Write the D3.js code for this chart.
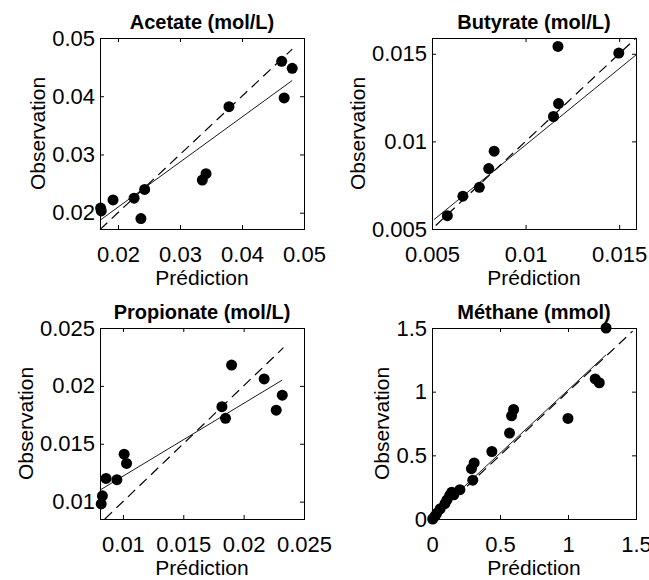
<!DOCTYPE html>
<html>
<head>
<meta charset="utf-8">
<script src="https://cdn.jsdelivr.net/npm/d3@7"></script>
<style>
    body { margin: 0; background: #fff; }
    svg text { font-family: "Liberation Sans", Arial, Helvetica, sans-serif; fill: #000; }
</style>
</head>
<body>
<div id="chart"></div>
<script>
// values (prediction on x, observation on y)
const acetatePred = [0.0172, 0.0173, 0.0192, 0.0226, 0.0237, 0.0243, 0.0336, 0.0342, 0.0379, 0.0464, 0.0468, 0.0481];
const acetateObs  = [0.0208, 0.0203, 0.0222, 0.0225, 0.0190, 0.0240, 0.0256, 0.0267, 0.0382, 0.0460, 0.0397, 0.0448];
const acetateFit  = [[0.0171, 0.0187], [0.0481, 0.0427]];
const acetateRef  = [[0.0171, 0.0171], [0.0481, 0.0481]];

const butyratePred = [0.00582, 0.00665, 0.00753, 0.00803, 0.00832, 0.01149, 0.01176, 0.01173, 0.01498];
const butyrateObs  = [0.00576, 0.00687, 0.00738, 0.00845, 0.00944, 0.01142, 0.01216, 0.01542, 0.01504];
const butyrateFit  = [[0.0051, 0.00553], [0.0159, 0.01493]];
const butyrateRef  = [[0.0052, 0.0052], [0.0159, 0.0159]];

const propionatePred = [0.0082, 0.0083, 0.0086, 0.0095, 0.0101, 0.0103, 0.0182, 0.0185, 0.0190, 0.0217, 0.0227, 0.0232];
const propionateObs  = [0.0098, 0.0105, 0.0120, 0.0119, 0.0141, 0.0133, 0.0182, 0.0172, 0.0218, 0.0206, 0.0179, 0.0192];
const propionateFit  = [[0.0081, 0.0110], [0.0232, 0.0205]];
const propionateRef  = [[0.0085, 0.0085], [0.0233, 0.0233]];

const methanePred = [0.005, 0.02, 0.035, 0.06, 0.095, 0.11, 0.13, 0.145, 0.16, 0.205, 0.30, 0.29, 0.31, 0.44, 0.57, 0.585, 0.60, 1.0, 1.2, 1.23, 1.28];
const methaneObs  = [0.0, 0.02, 0.045, 0.08, 0.12, 0.15, 0.185, 0.21, 0.19, 0.23, 0.305, 0.395, 0.44, 0.53, 0.675, 0.81, 0.86, 0.79, 1.1, 1.07, 1.5];
const methaneFit  = [[0.0, 0.02], [1.28, 1.29]];
const methaneRef  = [[0.0, 0.0], [1.475, 1.475]];

const titles = ["Acetate (mol/L)", "Butyrate (mol/L)", "Propionate (mol/L)", "Méthane (mmol)"];

const acetateTicks = [0.02, 0.03, 0.04, 0.05];
const acetateLabels = ["0.02", "0.03", "0.04", "0.05"];
const butyrateTicks = [0.005, 0.01, 0.015];
const butyrateLabels = ["0.005", "0.01", "0.015"];
const propionateTicks = [0.01, 0.015, 0.02, 0.025];
const propionateLabels = ["0.01", "0.015", "0.02", "0.025"];
const methaneTicks = [0, 0.5, 1, 1.5];
const methaneLabels = ["0", "0.5", "1", "1.5"];

// axis limits
const acetateXLim = [0.0171, 0.05], acetateYLim = [0.0172, 0.05];
const butyrateXLim = [0.005, 0.0159], butyrateYLim = [0.005, 0.0159];
const propionateXLim = [0.0081, 0.025], propionateYLim = [0.0085, 0.025];
const methaneXLim = [0, 1.5], methaneYLim = [0, 1.5];

class FitPanel {
    constructor(_svg, _left, _top, _data){
        this.svg = _svg;
        this.left = _left;
        this.top = _top;
        this.data = _data;

        this.initVis();
    }

    initVis(){
        let vis = this;

        vis.width = 204;
        vis.height = 191;

        vis.g = vis.svg.append("g")
            .attr("transform", `translate(${vis.left},${vis.top})`);

        vis.x = d3.scaleLinear().domain(vis.data.xLim).range([0, vis.width]);
        vis.y = d3.scaleLinear().domain(vis.data.yLim).range([vis.height, 0]);

        vis.wrangleData();
    }

    wrangleData(){
        let vis = this;
        vis.displayData = vis.data.pred.map((p, i) => ({ pred: p, obs: vis.data.obs[i] }));
        vis.updateVis();
    }

    updateVis(){
        let vis = this;
        let fmt = (labels, ticks) => (d) => labels[ticks.indexOf(d)];
        let clean = g => {
            g.select(".domain").remove();
            g.selectAll("line").attr("stroke", "#000");
            g.attr("font-family", null).attr("font-size", 22);
        };

        // ticks point inward like matlab
        vis.g.append("g")
            .attr("transform", `translate(0,${vis.height})`)
            .call(d3.axisBottom(vis.x).tickValues(vis.data.ticks)
                .tickFormat(fmt(vis.data.labels, vis.data.ticks)).tickSize(-4).tickPadding(17))
            .call(clean);

        vis.yAxis = vis.g.append("g")
            .call(d3.axisLeft(vis.y).tickValues(vis.data.ticks)
                .tickFormat(fmt(vis.data.labels, vis.data.ticks)).tickSize(-4).tickPadding(5))
            .call(clean);

        vis.g.append("g")
            .call(d3.axisTop(vis.x).tickValues(vis.data.ticks).tickFormat("").tickSize(-4))
            .call(clean);

        vis.g.append("g")
            .attr("transform", `translate(${vis.width},0)`)
            .call(d3.axisRight(vis.y).tickValues(vis.data.ticks).tickFormat("").tickSize(-4))
            .call(clean);

        vis.g.append("rect")
            .attr("x", 0.5).attr("y", 0.5)
            .attr("width", vis.width).attr("height", vis.height)
            .attr("fill", "none").attr("stroke", "#000");

        let line = d3.line().x(d => vis.x(d[0])).y(d => vis.y(d[1]));

        vis.g.append("path")
            .attr("d", line(vis.data.ref))
            .attr("fill", "none").attr("stroke", "#000").attr("stroke-width", 1.2)
            .attr("stroke-dasharray", "10,6");

        vis.g.append("path")
            .attr("d", line(vis.data.fit))
            .attr("fill", "none").attr("stroke", "#000").attr("stroke-width", 0.9);

        vis.g.selectAll(".dot")
            .data(vis.displayData)
            .enter().append("circle")
            .attr("class", "dot")
            .attr("cx", d => vis.x(d.pred))
            .attr("cy", d => vis.y(d.obs))
            .attr("r", 5.5)
            .attr("fill", "#000");

        vis.g.append("text")
            .attr("x", vis.width / 2).attr("y", -9)
            .attr("text-anchor", "middle")
            .attr("font-size", 20).attr("font-weight", "bold")
            .text(vis.data.title);

        vis.g.append("text")
            .attr("x", vis.width / 2).attr("y", vis.height + 56)
            .attr("text-anchor", "middle")
            .attr("font-size", 21)
            .text("Prédiction");

        // ylabel sits left of the widest tick label
        let labelLeft = d3.min(vis.yAxis.selectAll("text").nodes(), n => n.getBBox().x);
        vis.g.append("text")
            .attr("transform", `translate(${labelLeft - 7},${vis.height / 2}) rotate(-90)`)
            .attr("text-anchor", "middle")
            .attr("font-size", 21)
            .text("Observation");
    }
}

let svg = d3.select("#chart").append("svg")
    .attr("width", 649)
    .attr("height", 580);

svg.append("rect").attr("width", 649).attr("height", 580).attr("fill", "#fff");

new FitPanel(svg, 100, 38, { title: titles[0], pred: acetatePred, obs: acetateObs, fit: acetateFit, ref: acetateRef,
    ticks: acetateTicks, labels: acetateLabels, xLim: acetateXLim, yLim: acetateYLim });
new FitPanel(svg, 432, 38, { title: titles[1], pred: butyratePred, obs: butyrateObs, fit: butyrateFit, ref: butyrateRef,
    ticks: butyrateTicks, labels: butyrateLabels, xLim: butyrateXLim, yLim: butyrateYLim });
new FitPanel(svg, 100, 328, { title: titles[2], pred: propionatePred, obs: propionateObs, fit: propionateFit, ref: propionateRef,
    ticks: propionateTicks, labels: propionateLabels, xLim: propionateXLim, yLim: propionateYLim });
new FitPanel(svg, 432, 328, { title: titles[3], pred: methanePred, obs: methaneObs, fit: methaneFit, ref: methaneRef,
    ticks: methaneTicks, labels: methaneLabels, xLim: methaneXLim, yLim: methaneYLim });
</script>
</body>
</html>
